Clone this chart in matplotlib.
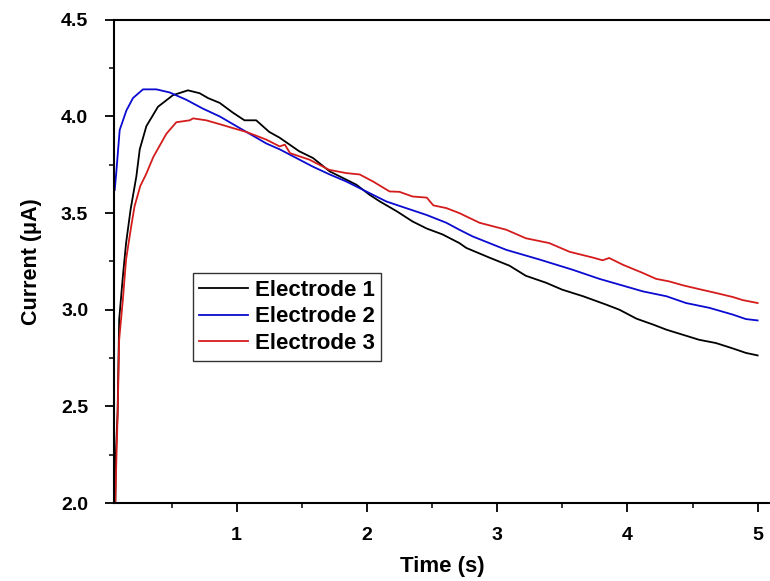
import matplotlib
matplotlib.use("Agg")
from matplotlib import pyplot as plt
from matplotlib.ticker import MultipleLocator

plt.rcParams['font.family'] = ['Liberation Sans', 'DejaVu Sans']
plt.rcParams['font.weight'] = 'bold'

# Electrode 1 (black)
t1 = [0.068, 0.073, 0.086, 0.098, 0.126, 0.151, 0.186, 0.23, 0.256, 0.307, 0.396, 0.511,
      0.626, 0.716, 0.78, 0.87, 0.97, 1.06, 1.15, 1.25, 1.33, 1.48, 1.586, 1.714, 1.919,
      2.02, 2.1, 2.228, 2.35, 2.46, 2.58, 2.71, 2.763, 2.94, 3.095, 3.22, 3.375, 3.50,
      3.66, 3.84, 3.94, 4.07, 4.2, 4.3, 4.43, 4.55, 4.68, 4.81, 4.91, 5.0]
i1 = [1.98, 2.26, 2.47, 2.95, 3.17, 3.345, 3.52, 3.69, 3.83, 3.95, 4.05, 4.11,
      4.135, 4.12, 4.095, 4.07, 4.02, 3.98, 3.98, 3.92, 3.89, 3.82, 3.785, 3.716, 3.647,
      3.595, 3.56, 3.51, 3.457, 3.42, 3.39, 3.345, 3.32, 3.27, 3.228, 3.176, 3.14, 3.104,
      3.07, 3.026, 3.00, 2.954, 2.923, 2.897, 2.87, 2.845, 2.828, 2.80, 2.777, 2.764]

# Electrode 2 (blue)
t2 = [0.064, 0.077, 0.102, 0.153, 0.204, 0.281, 0.384, 0.486, 0.614, 0.742, 0.87, 1.023,
      1.228, 1.33, 1.458, 1.586, 1.714, 1.84, 1.995, 2.15, 2.30, 2.46, 2.61, 2.71, 2.81,
      3.07, 3.325, 3.58, 3.785, 3.94, 4.12, 4.30, 4.45, 4.63, 4.81, 4.91, 5.0]
i2 = [3.62, 3.72, 3.93, 4.03, 4.095, 4.14, 4.14, 4.124, 4.086, 4.04, 4.0, 3.94,
      3.86, 3.83, 3.785, 3.74, 3.70, 3.664, 3.612, 3.56, 3.526, 3.49, 3.45, 3.414, 3.38,
      3.31, 3.26, 3.207, 3.16, 3.13, 3.095, 3.07, 3.035, 3.01, 2.975, 2.952, 2.945]

# Electrode 3 (red)
t3 = [0.067, 0.073, 0.086, 0.098, 0.126, 0.151, 0.19, 0.216, 0.26, 0.304, 0.36, 0.41,
      0.46, 0.537, 0.64, 0.665, 0.766, 0.87, 0.97, 1.074, 1.228, 1.33, 1.37, 1.41, 1.56,
      1.71, 1.84, 1.944, 2.046, 2.174, 2.25, 2.35, 2.46, 2.51, 2.61, 2.71, 2.865, 3.07,
      3.22, 3.40, 3.556, 3.735, 3.81, 3.86, 3.965, 4.12, 4.22, 4.32, 4.43, 4.55, 4.68,
      4.81, 4.886, 5.0]
i3 = [1.97, 2.14, 2.45, 2.845, 3.05, 3.26, 3.43, 3.535, 3.64, 3.70, 3.79, 3.85,
      3.91, 3.97, 3.98, 3.99, 3.98, 3.96, 3.94, 3.92, 3.88, 3.845, 3.854, 3.81, 3.776,
      3.724, 3.707, 3.70, 3.664, 3.612, 3.61, 3.586, 3.58, 3.54, 3.526, 3.50, 3.45, 3.414,
      3.37, 3.345, 3.30, 3.27, 3.256, 3.268, 3.233, 3.19, 3.16, 3.147, 3.126, 3.107, 3.087,
      3.066, 3.05, 3.035]

labels = ['Electrode 1', 'Electrode 2', 'Electrode 3']
colors = ['black', '#0a0ad0', '#d41c1c']

fig = plt.figure(figsize=(7.7, 5.81), dpi=100)
ax = fig.add_axes([0.148, 0.134, 0.852, 0.832])

for t, i, lab, c in zip([t1, t2, t3], [i1, i2, i3], labels, colors):
    ax.plot(t, i, color=c, lw=1.3, label=lab)

ax.set_xlim(0.058, 5.095)
ax.set_ylim(2.0, 4.5)
ax.xaxis.set_major_locator(MultipleLocator(1))
ax.xaxis.set_minor_locator(MultipleLocator(0.5))
ax.yaxis.set_major_locator(MultipleLocator(0.5))
ax.yaxis.set_minor_locator(MultipleLocator(0.25))
ax.yaxis.set_major_formatter(plt.FormatStrFormatter('%.1f'))

for s in ['left', 'bottom', 'top']:
    ax.spines[s].set_linewidth(1.5)
ax.spines['right'].set_visible(False)

ax.tick_params(which='major', direction='out', length=6.5, width=1.3, labelsize=14)
ax.tick_params(which='minor', direction='out', length=3.5, width=1.1)
ax.tick_params(axis='x', pad=11)
ax.tick_params(axis='y', pad=12)

ax.set_xlabel('Time (s)', fontsize=16, fontweight='bold', labelpad=8)
ax.set_ylabel('Current (\u03bcA)', fontsize=15.5, fontweight='bold', labelpad=14)

leg = ax.legend(loc='upper left', bbox_to_anchor=(0.12, 0.476), fontsize=16,
                frameon=True, fancybox=False, handlelength=2.2, handletextpad=0.3,
                borderpad=0.3, labelspacing=0.26, borderaxespad=0)
leg.get_frame().set_edgecolor('black')
leg.get_frame().set_linewidth(1.0)

fig.savefig('out.png', dpi=100)
